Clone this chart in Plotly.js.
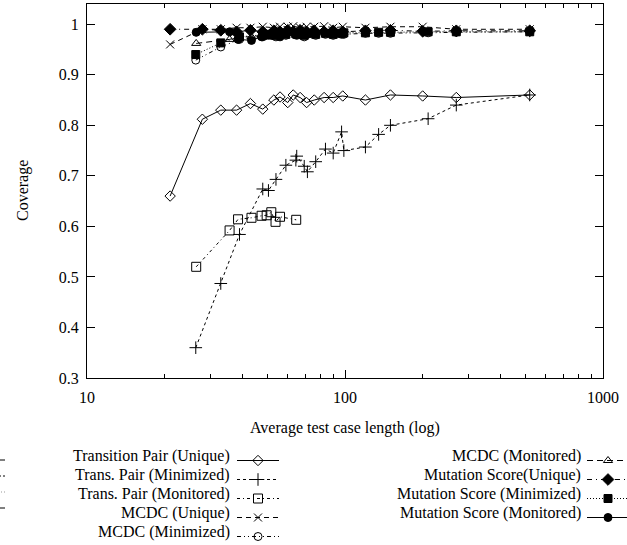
<!DOCTYPE html>
<html>
<head>
<meta charset="utf-8">
<script src="https://cdn.plot.ly/plotly-3.0.1.min.js"></script>
<style>html,body{margin:0;padding:0;background:#fff;}#chart{width:627px;height:545px;}</style>
</head>
<body>
<div id="chart"></div>
<script>
// ---- data ----
var xUnique = [21, 28, 33, 38, 43, 48, 53, 56, 60, 63, 67, 71, 76, 83, 90, 98, 120, 150, 200, 270, 520];
var tpUnique = [0.66, 0.812, 0.83, 0.83, 0.843, 0.832, 0.85, 0.856, 0.845, 0.86, 0.855, 0.845, 0.85, 0.855, 0.855, 0.858, 0.85, 0.86, 0.858, 0.855, 0.86];
var mcdcUnique = [0.96, 0.99, 0.99, 0.993, 0.993, 0.995, 0.993, 0.995, 0.995, 0.996, 0.993, 0.995, 0.995, 0.996, 0.993, 0.995, 0.993, 0.995, 0.995, 0.99, 0.99];
var msUnique = [0.99, 0.99, 0.988, 0.985, 0.988, 0.985, 0.987, 0.985, 0.988, 0.985, 0.988, 0.985, 0.987, 0.985, 0.987, 0.985, 0.987, 0.988, 0.986, 0.987, 0.987];

var xMin = [26.4, 33, 39, 48, 50.5, 54, 59, 64.5, 65, 69.5, 71.5, 77, 84, 90, 97, 99, 120, 135, 150, 210, 270, 520];
var tpMin = [0.36, 0.487, 0.584, 0.674, 0.671, 0.693, 0.721, 0.731, 0.739, 0.719, 0.708, 0.728, 0.753, 0.745, 0.787, 0.75, 0.757, 0.782, 0.80, 0.813, 0.84, 0.86];
var mcdcMin = [0.929, 0.955, 0.97, 0.975, 0.978, 0.975, 0.978, 0.98, 0.978, 0.975, 0.98, 0.978, 0.98, 0.978, 0.98, 0.98, 0.982, 0.982, 0.982, 0.983, 0.984, 0.985];
var msMin = [0.94, 0.963, 0.975, 0.978, 0.98, 0.978, 0.98, 0.982, 0.98, 0.978, 0.982, 0.98, 0.982, 0.98, 0.982, 0.983, 0.983, 0.984, 0.984, 0.985, 0.985, 0.985];

var xMon = [26.5, 35.7, 38.5, 43.4, 47.5, 49.7, 51.8, 53.8, 56, 64.7];
var tpMon = [0.52, 0.592, 0.614, 0.617, 0.621, 0.622, 0.628, 0.609, 0.619, 0.613];
var mcdcMon = [0.962, 0.97, 0.975, 0.975, 0.978, 0.976, 0.978, 0.975, 0.978, 0.978];
var msMon = [0.984, 0.985, 0.97, 0.968, 0.975, 0.98, 0.978, 0.98, 0.975, 0.98];

var labelsCol2 = ["Transition Pair (Unique)", "Trans. Pair (Minimized)", "Trans. Pair (Monitored)", "MCDC (Unique)", "MCDC (Minimized)"];
var labelsCol3 = ["MCDC (Monitored)", "Mutation Score(Unique)", "Mutation Score (Minimized)", "Mutation Score (Monitored)"];
var xTitle = "Average test case length (log)";
var yTitle = "Coverage";
var xTickVals = [10, 100, 1000];
var xTickText = ["10", "100", "1000"];
var xMinorVals = [20, 30, 40, 50, 60, 70, 80, 90, 200, 300, 400, 500, 600, 700, 800, 900];
var yTickVals = [0.3, 0.4, 0.5, 0.6, 0.7, 0.8, 0.9, 1];
var yTickText = ["0.3", "0.4", "0.5", "0.6", "0.7", "0.8", "0.9", "1"];

// ---- layout helpers ----
var L = 87, R = 603, T = 4, B = 378;
function pxX(x) { return (x - L) / (R - L); }
function pxY(y) { return (B - y) / (B - T); }
var SERIF = "Liberation Serif, Times New Roman, serif";
var FS = 16;

function tr(x, y, sym, size, dash, leg) {
  return {
    type: "scatter", mode: "lines+markers", x: x, y: y, name: " ",
    legend: leg,
    line: {color: "#000", width: 1, dash: dash},
    marker: {symbol: sym, size: size, color: "#000", line: {color: "#000", width: 1}},
    showlegend: true, cliponaxis: false
  };
}

var traces = [
  tr(xUnique, tpUnique, "diamond-open", 8, "solid", "legend"),
  tr(xMin, tpMin, "cross-thin-open", 9, "3px,3px", "legend"),
  tr(xMon, tpMon, "square-open", 9, "3px,3px,1px,3px", "legend"),
  tr(xUnique, mcdcUnique, "x-thin-open", 8, "5px,4px", "legend"),
  tr(xMin, mcdcMin, "circle-open", 8, "4px,3px,1px,3px,1px,3px", "legend"),
  tr(xMon, mcdcMon, "triangle-up-open", 8, "6px,4px", "legend2"),
  tr(xUnique, msUnique, "diamond", 9, "5px,4px,1px,4px", "legend2"),
  tr(xMin, msMin, "square", 8, "1px,2px", "legend2"),
  tr(xMon, msMon, "circle", 8, "solid", "legend2")
];

var rowStart = 456, rowStep = 19;
var annotations = [];
labelsCol2.forEach(function (t, i) {
  annotations.push({text: t, xref: "paper", yref: "paper", x: pxX(232), y: pxY(rowStart + i * rowStep),
    xanchor: "right", yanchor: "middle", showarrow: false, font: {family: SERIF, size: FS, color: "#000"}});
});
labelsCol3.forEach(function (t, i) {
  annotations.push({text: t, xref: "paper", yref: "paper", x: pxX(583), y: pxY(rowStart + i * rowStep),
    xanchor: "right", yanchor: "middle", showarrow: false, font: {family: SERIF, size: FS, color: "#000"}});
});
annotations.push({text: xTitle, xref: "paper", yref: "paper", x: 0.5, y: pxY(428),
  xanchor: "center", yanchor: "middle", showarrow: false, font: {family: SERIF, size: FS, color: "#000"}});
annotations.push({text: yTitle, xref: "paper", yref: "paper", x: pxX(23), y: pxY(191), textangle: -90,
  xanchor: "center", yanchor: "middle", showarrow: false, font: {family: SERIF, size: FS, color: "#000"}});

var legendCommon = {
  xref: "container", yref: "container", yanchor: "top", xanchor: "left",
  bgcolor: "rgba(0,0,0,0)", borderwidth: 0, font: {size: 10, family: SERIF, color: "#000"},
  itemwidth: 42, itemclick: false, itemdoubleclick: false
};

var layout = {
  width: 627, height: 545,
  margin: {l: L, r: 627 - R, t: T, b: 545 - B, autoexpand: false},
  paper_bgcolor: "#fff", plot_bgcolor: "#fff",
  font: {family: SERIF, size: FS, color: "#000"},
  xaxis: {
    type: "log", range: [1, 3], tickmode: "array", tickvals: xTickVals, ticktext: xTickText,
    ticks: "inside", ticklen: 8, tickwidth: 1, tickcolor: "#000", ticklabelstandoff: 5,
    showline: true, linecolor: "#000", linewidth: 1, mirror: "allticks",
    showgrid: false, zeroline: false, automargin: false,
    tickfont: {family: SERIF, size: FS, color: "#000"},
    minor: {tickmode: "array", tickvals: xMinorVals, ticks: "inside", ticklen: 4, tickcolor: "#000", showgrid: false}
  },
  yaxis: {
    range: [0.3, 1.04], tickmode: "array", tickvals: yTickVals, ticktext: yTickText,
    ticks: "inside", ticklen: 8, tickwidth: 1, tickcolor: "#000", ticklabelstandoff: 4,
    showline: true, linecolor: "#000", linewidth: 1, mirror: "allticks",
    showgrid: false, zeroline: false, automargin: false,
    tickfont: {family: SERIF, size: FS, color: "#000"}
  },
  legend: Object.assign({}, legendCommon, {x: 232 / 627, y: 1 - 446 / 545}),
  legend2: Object.assign({}, legendCommon, {x: 582 / 627, y: 1 - 446 / 545}),
  annotations: annotations,
  shapes: [0, 1, 2, 3].map(function (i) {
    return {type: "line", xref: "paper", yref: "paper", x0: pxX(-2), x1: pxX(5),
      y0: pxY(460 + i * 16), y1: pxY(460 + i * 16),
      line: {color: i === 2 ? "#999" : "#000", width: 1, dash: i === 1 ? "3px,2px" : (i === 2 ? "1px,2px" : "solid")}};
  })
};

Plotly.newPlot("chart", traces, layout, {displayModeBar: false, staticPlot: true});
</script>
</body>
</html>
